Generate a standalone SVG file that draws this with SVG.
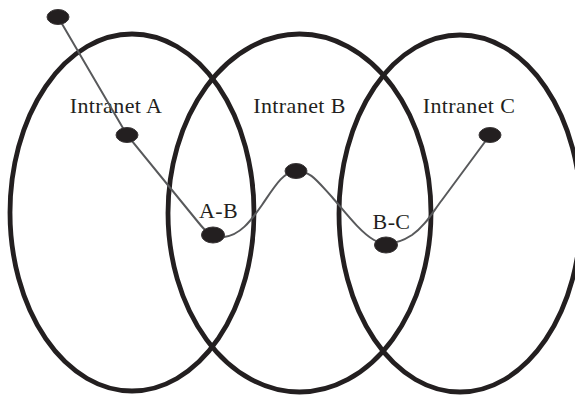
<svg xmlns="http://www.w3.org/2000/svg" width="575" height="398" viewBox="0 0 575 398">
<style>
.ring{fill:none;stroke:#231f20;stroke-width:4.8}
.node{fill:#231f20;stroke:#3a3637;stroke-width:1}
.link{fill:none;stroke:#58595b;stroke-width:2}
.lbl{font-family:"Liberation Serif","DejaVu Serif",serif;font-size:22px;letter-spacing:0.4px;fill:#231f20;text-anchor:middle}
</style>
<rect width="575" height="398" fill="#ffffff"/>
<g id="intranet-a"><ellipse class="ring" cx="132" cy="212.5" rx="122" ry="178.5"/><text class="lbl" x="116" y="113">Intranet A</text></g>
<g id="intranet-b"><ellipse class="ring" cx="299.5" cy="213" rx="131.5" ry="179"/><text class="lbl" x="299.5" y="113">Intranet B</text></g>
<g id="intranet-c"><ellipse class="ring" cx="460" cy="213.5" rx="121" ry="178.5"/><text class="lbl" x="469" y="113">Intranet C</text></g>
<g id="connectors">
<path class="link" d="M58,17 L127,135 L198,222 C206,232 212,238 224,237 C240,235 250,222 262,205 C275,186 283,172 296,171 C310,170 318,182 332,197 C345,212 360,232 374,240 C385,246 398,244 412,235 C425,226 432,213 442,200 L490,135"/>
</g>
<g id="node-1"><ellipse class="node" cx="58" cy="17" rx="11" ry="7.5"/></g>
<g id="node-2"><ellipse class="node" cx="127" cy="135" rx="11" ry="7.5"/></g>
<g id="node-ab"><ellipse class="node" cx="213" cy="235" rx="11.5" ry="8"/><text class="lbl" x="218.5" y="218">A-B</text></g>
<g id="node-mid"><ellipse class="node" cx="296" cy="171" rx="11" ry="7.5"/></g>
<g id="node-bc"><ellipse class="node" cx="386" cy="245" rx="11.5" ry="8"/><text class="lbl" x="391.5" y="229">B-C</text></g>
<g id="node-c"><ellipse class="node" cx="490" cy="135" rx="11" ry="7.5"/></g>
</svg>
